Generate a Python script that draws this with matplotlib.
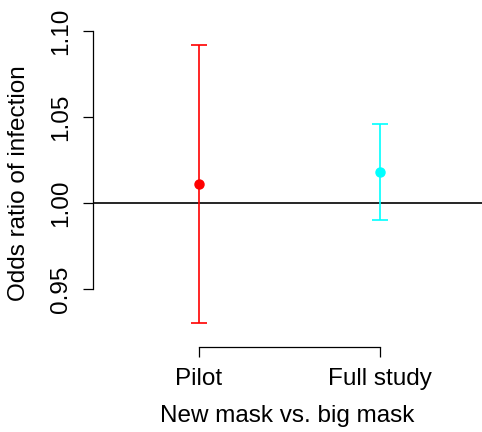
import matplotlib
matplotlib.use("Agg")
import matplotlib.pyplot as plt

# Odds ratios with 95% intervals
groups = ["Pilot", "Full study"]
odds_ratio = [1.011, 1.018]
ci_low = [0.930, 0.990]
ci_high = [1.092, 1.046]
colors = ["#ff0000", "#00ffff"]
yticks = [0.95, 1.00, 1.05, 1.10]

plt.rcParams["font.family"] = ["Liberation Sans", "DejaVu Sans"]

W, H = 482, 432
fig = plt.figure(figsize=(W / 100, H / 100), dpi=100)
# plot region in pixels: left 93, right 482, top 20, bottom 347
ax = fig.add_axes([93 / W, (H - 347) / H, (482 - 93) / W, (347 - 20) / H])

xs = [1, 2]
for x, m, lo, hi, c in zip(xs, odds_ratio, ci_low, ci_high, colors):
    ax.errorbar([x], [m], yerr=[[m - lo], [hi - m]], fmt="o", color=c,
                ms=6.5, elinewidth=1.2, capsize=5.8, capthick=1.2)

ax.axhline(1.0, color="black", lw=1.2, zorder=0)

ax.set_xlim(0.414, 2.564)
ax.set_ylim(0.9161, 1.1067)

for s in ["top", "right"]:
    ax.spines[s].set_visible(False)
ax.spines["left"].set_bounds(0.95, 1.10)
ax.spines["bottom"].set_bounds(1, 2)
for s in ["left", "bottom"]:
    ax.spines[s].set_linewidth(0.9)

fs = 17.5
ax.set_xticks(xs)
ax.set_xticklabels(groups)
ax.set_yticks(yticks)
ax.set_yticklabels([f"{v:.2f}" for v in yticks], rotation=90, va="center")
ax.tick_params(axis="both", length=7.2, width=0.9, labelsize=fs)
ax.tick_params(axis="y", pad=8)
ax.tick_params(axis="x", pad=8)

ax.set_xlabel("New mask vs. big mask", fontsize=fs, labelpad=10.5)
ax.set_ylabel("Odds ratio of infection", fontsize=fs, labelpad=14)

fig.savefig("out.png", dpi=100)
